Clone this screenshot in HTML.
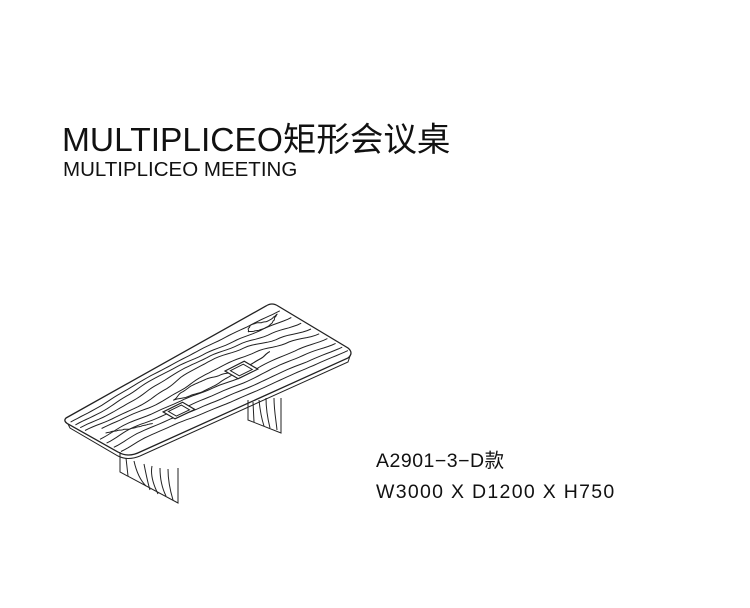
<!DOCTYPE html>
<html><head><meta charset="utf-8"><style>
body{margin:0;width:750px;height:608px;background:#fff;position:relative;overflow:hidden;font-family:"Liberation Sans","Noto Sans CJK SC",sans-serif;color:#111}
.t{position:absolute;white-space:nowrap;line-height:1}
</style></head><body>
<div class="t" style="left:62px;top:124px;font-size:33.5px;">MULTIPLICEO矩形会议桌</div>
<div class="t" style="left:63px;top:160px;font-size:20.5px;">MULTIPLICEO MEETING</div>
<div class="t" style="left:376px;top:452px;font-size:19.5px;letter-spacing:0.5px">A2901−3−D款</div>
<div class="t" style="left:376px;top:483px;font-size:19.5px;letter-spacing:1.3px">W3000 X D1200 X H750</div>
<svg id="s" width="750" height="608" style="position:absolute;left:0;top:0" fill="none" stroke="#222" stroke-width="1">
<!-- legs -->
<path d="M120 452 L120 472 L178 503 L178 468"/>
<path d="M126 458 L128 476 M134 461 C136 470 140 480 146 486 M144 464 C146 474 148 484 150 490 M152 466 C150 476 154 486 158 494 M160 468 C160 478 162 488 166 496 M168 469 C168 480 170 490 173 500"/>
<path d="M248 400 L248 420 L281 433 L281 398"/>
<path d="M253 402 L254 422 M259 400 C260 410 262 420 264 426 M266 398 C266 410 268 420 270 428 M274 398 C274 410 276 420 277 430"/>
<!-- top outline -->
<path d="M66 418 L266 306 Q272 302 278 306 L348 348 Q354 353 348 358 L140 452 Q128 458 118 452 L68 424 Q63 421 66 418 Z" stroke-width="1.3"/>
<path d="M68 424 L70 428 L118 456 Q128 461 140 456 L348 362 L350 356"/>
<g id="g"></g>
</svg>
<script>
var A=[67,420],B=[270,305],C=[352,353],D=[127,455];
function P(u,v){return [A[0]*(1-u)*(1-v)+B[0]*u*(1-v)+C[0]*u*v+D[0]*(1-u)*v, A[1]*(1-u)*(1-v)+B[1]*u*(1-v)+C[1]*u*v+D[1]*(1-u)*v];}
function interp(arr,u){var n=arr.length-1,x=u*n,i=Math.min(Math.floor(x),n-1),t=x-i,s=(1-Math.cos(t*Math.PI))/2;return arr[i]*(1-s)+arr[i+1]*s;}
var lines=[
 {u0:0,u1:1,v:[.06,.07,.05,.04,.05,.06,.08,.10,.12]},
 {u0:0,u1:1,v:[.14,.16,.13,.10,.11,.14,.18,.22,.26]},
 {u0:0,u1:1,v:[.22,.25,.24,.20,.18,.20,.25,.32,.38]},
 {u0:0,u1:1,v:[.30,.34,.36,.32,.26,.26,.32,.42,.50]},
 {u0:0.05,u1:1,v:[.40,.42,.46,.44,.40,.40,.44,.52,.60]},
 {u0:0,u1:1,v:[.55,.52,.56,.58,.62,.66,.64,.66,.70]},
 {u0:0,u1:1,v:[.66,.62,.66,.70,.72,.75,.74,.76,.80]},
 {u0:0,u1:1,v:[.78,.74,.76,.80,.82,.84,.84,.86,.88]},
 {u0:0,u1:1,v:[.90,.86,.87,.90,.92,.93,.93,.94,.95]},
 {u0:0.35,u1:0.8,v:[.52,.47,.45,.46,.50,.55,.56,.55,.52]},
 {u0:0.35,u1:0.8,v:[.52,.57,.60,.60,.58,.57,.56,.55,.52]},
 {u0:0.83,u1:0.98,v:[.16,.12,.10,.11,.14,.16,.16,.15,.14]},
 {u0:0.83,u1:0.98,v:[.16,.19,.21,.22,.22,.21,.19,.16,.14]},
 {u0:0.04,u1:0.2,v:[.50,.52,.55,.58,.62,.64,.66,.68,.70]}
];
var g=document.getElementById('g'),h='';
lines.forEach(function(L){var d='';for(var k=0;k<=60;k++){var t=k/60,u=L.u0+(L.u1-L.u0)*t,p=P(u,interp(L.v,t));d+=(k?'L':'M')+p[0].toFixed(1)+' '+p[1].toFixed(1);}h+='<path d="'+d+'"/>';});
function rect(u,v){var du=.045,dv=.09,a=P(u-du,v-dv),b=P(u+du,v-dv),c=P(u+du,v+dv),e=P(u-du,v+dv);
 var s='M'+a+'L'+b+'L'+c+'L'+e+'Z';var du2=.03,dv2=.06;a=P(u-du2,v-dv2);b=P(u+du2,v-dv2);c=P(u+du2,v+dv2);e=P(u-du2,v+dv2);
 return '<path stroke-width="1.2" fill="#fff" d="'+s+'"/><path d="M'+a+'L'+b+'L'+c+'L'+e+'Z"/>';}
h+=rect(.32,.7)+rect(.65,.57);
g.innerHTML=h;
</script>
</body></html>
